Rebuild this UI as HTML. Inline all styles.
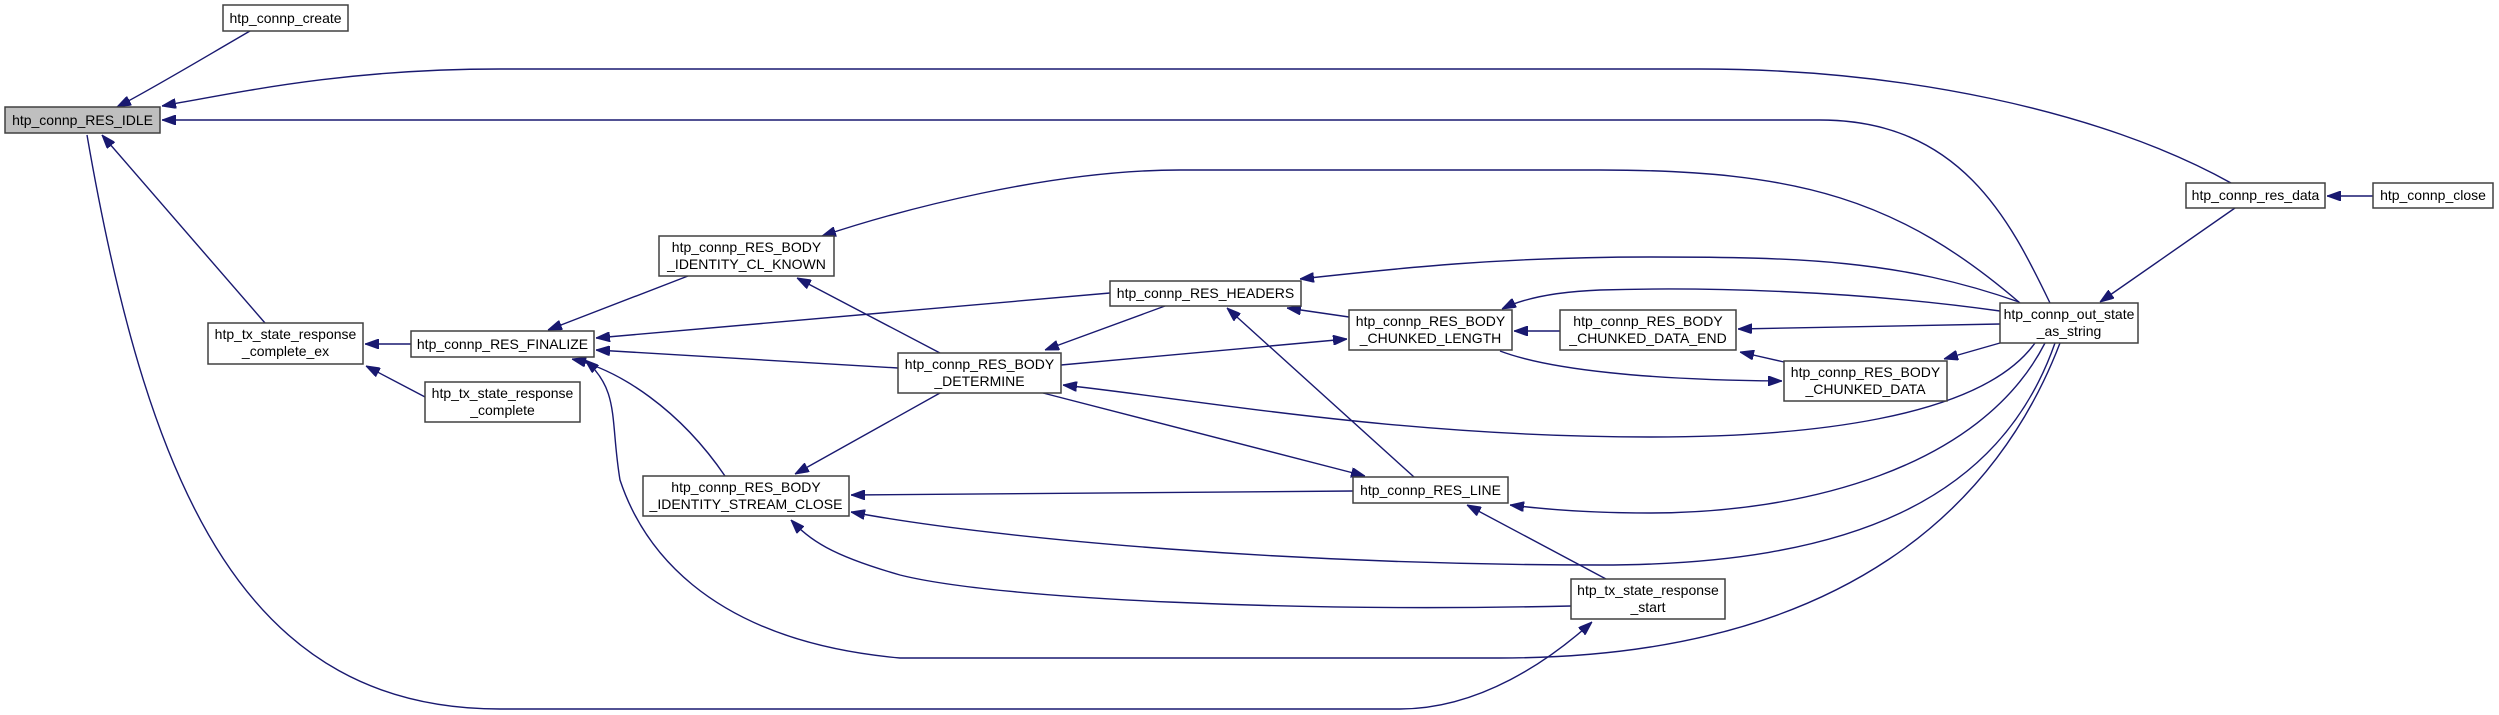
<!DOCTYPE html>
<html><head><meta charset="utf-8"><style>
html,body{margin:0;padding:0;background:#fff;}
svg{display:block;}
text{font-family:"Liberation Sans",sans-serif;font-size:14px;fill:#000;}
.e{fill:none;stroke:#191970;stroke-width:1.4;marker-end:url(#a);}
.n{fill:#fff;stroke:#404040;stroke-width:1.5;}
</style></head><body>
<svg width="2499" height="715" viewBox="0 0 2499 715" xmlns="http://www.w3.org/2000/svg">
<defs><marker id="a" markerUnits="userSpaceOnUse" markerWidth="14" markerHeight="10" refX="14" refY="5" orient="auto"><path d="M0,0 L14,5 L0,10 z" fill="#191970" stroke="#191970"/></marker></defs>
<path class="e" d="M250,31 C200,60 150,90 117,107"/>
<path class="e" d="M2231,183 C2100,110 1900,69 1700,69 L500,69 C350,69 250,90 162,106"/>
<path class="e" d="M2050,303 C2010,220 1960,120 1820,120 L162,120"/>
<path class="e" d="M265,323 L102,135"/>
<path class="e" d="M87,135 C150,500 250,709 500,709 L1400,709 C1480,709 1550,660 1592,622"/>
<path class="e" d="M411,344 L365,344"/>
<path class="e" d="M427,398 L366,366"/>
<path class="e" d="M688,276 L548,330"/>
<path class="e" d="M1110,293 L596,338"/>
<path class="e" d="M898,368 L596,350"/>
<path class="e" d="M725,476 C680,410 620,370 572,359"/>
<path class="e" d="M2060,343 C2000,500 1850,658 1500,658 L900,658 C700,640 640,540 620,480 C610,420 620,390 585,360"/>
<path class="e" d="M940,353 L797,278"/>
<path class="e" d="M2020,303 C1900,200 1800,170 1600,170 L1180,170 C1050,170 900,210 822,236"/>
<path class="e" d="M1165,306 L1045,350"/>
<path class="e" d="M1061,365 L1347,339"/>
<path class="e" d="M2035,343 C1980,420 1800,437 1650,437 C1400,437 1200,400 1063,385"/>
<path class="e" d="M1043,393 L1365,476"/>
<path class="e" d="M1414,477 L1227,308"/>
<path class="e" d="M1349,317 L1287,308"/>
<path class="e" d="M2019,302 C1900,260 1800,257 1650,257 C1500,257 1400,268 1300,279"/>
<path class="e" d="M1560,331 L1514,331"/>
<path class="e" d="M2000,311 C1850,290 1700,287 1600,290 C1550,292 1520,300 1502,309"/>
<path class="e" d="M2000,324 L1738,329"/>
<path class="e" d="M1500,351 C1550,370 1650,380 1782,381"/>
<path class="e" d="M1784,362 L1740,352"/>
<path class="e" d="M2000,343 L1944,359"/>
<path class="e" d="M1353,491 L851,495"/>
<path class="e" d="M2055,343 C2000,500 1850,565 1600,565 C1300,565 1000,540 851,512"/>
<path class="e" d="M2045,343 C1980,470 1800,513 1650,513 C1600,513 1550,510 1510,505"/>
<path class="e" d="M1606,579 L1467,505"/>
<path class="e" d="M940,393 L795,474"/>
<path class="e" d="M2235,208 L2100,302"/>
<path class="e" d="M2373,196 L2327,196"/>
<path class="e" d="M1571,606 C1300,612 1000,600 900,575 C830,555 810,540 791,520"/>

<rect class="n" x="223" y="5" width="125" height="26"/><text x="285.5" y="23" text-anchor="middle">htp_connp_create</text>
<rect class="n" x="5" y="107" width="155" height="26" style="fill:#bfbfbf"/><text x="82.5" y="125" text-anchor="middle">htp_connp_RES_IDLE</text>
<rect class="n" x="208" y="323" width="155" height="41"/><text x="285.5" y="339" text-anchor="middle">htp_tx_state_response</text><text x="285.5" y="356" text-anchor="middle">_complete_ex</text>
<rect class="n" x="411" y="331" width="183" height="26"/><text x="502.5" y="349" text-anchor="middle">htp_connp_RES_FINALIZE</text>
<rect class="n" x="425" y="382" width="155" height="40"/><text x="502.5" y="398" text-anchor="middle">htp_tx_state_response</text><text x="502.5" y="415" text-anchor="middle">_complete</text>
<rect class="n" x="659" y="236" width="175" height="40"/><text x="746.5" y="252" text-anchor="middle">htp_connp_RES_BODY</text><text x="746.5" y="269" text-anchor="middle">_IDENTITY_CL_KNOWN</text>
<rect class="n" x="643" y="476" width="206" height="40"/><text x="746" y="492" text-anchor="middle">htp_connp_RES_BODY</text><text x="746" y="509" text-anchor="middle">_IDENTITY_STREAM_CLOSE</text>
<rect class="n" x="898" y="353" width="163" height="40"/><text x="979.5" y="369" text-anchor="middle">htp_connp_RES_BODY</text><text x="979.5" y="386" text-anchor="middle">_DETERMINE</text>
<rect class="n" x="1110" y="281" width="191" height="25"/><text x="1205.5" y="298" text-anchor="middle">htp_connp_RES_HEADERS</text>
<rect class="n" x="1349" y="310" width="163" height="40"/><text x="1430.5" y="326" text-anchor="middle">htp_connp_RES_BODY</text><text x="1430.5" y="343" text-anchor="middle">_CHUNKED_LENGTH</text>
<rect class="n" x="1560" y="310" width="176" height="40"/><text x="1648" y="326" text-anchor="middle">htp_connp_RES_BODY</text><text x="1648" y="343" text-anchor="middle">_CHUNKED_DATA_END</text>
<rect class="n" x="1784" y="361" width="163" height="40"/><text x="1865.5" y="377" text-anchor="middle">htp_connp_RES_BODY</text><text x="1865.5" y="394" text-anchor="middle">_CHUNKED_DATA</text>
<rect class="n" x="1353" y="477" width="155" height="26"/><text x="1430.5" y="495" text-anchor="middle">htp_connp_RES_LINE</text>
<rect class="n" x="1571" y="579" width="154" height="40"/><text x="1648" y="595" text-anchor="middle">htp_tx_state_response</text><text x="1648" y="612" text-anchor="middle">_start</text>
<rect class="n" x="2000" y="303" width="138" height="40"/><text x="2069" y="319" text-anchor="middle">htp_connp_out_state</text><text x="2069" y="336" text-anchor="middle">_as_string</text>
<rect class="n" x="2186" y="183" width="139" height="25"/><text x="2255.5" y="200" text-anchor="middle">htp_connp_res_data</text>
<rect class="n" x="2373" y="183" width="120" height="25"/><text x="2433" y="200" text-anchor="middle">htp_connp_close</text>
</svg>
</body></html>
